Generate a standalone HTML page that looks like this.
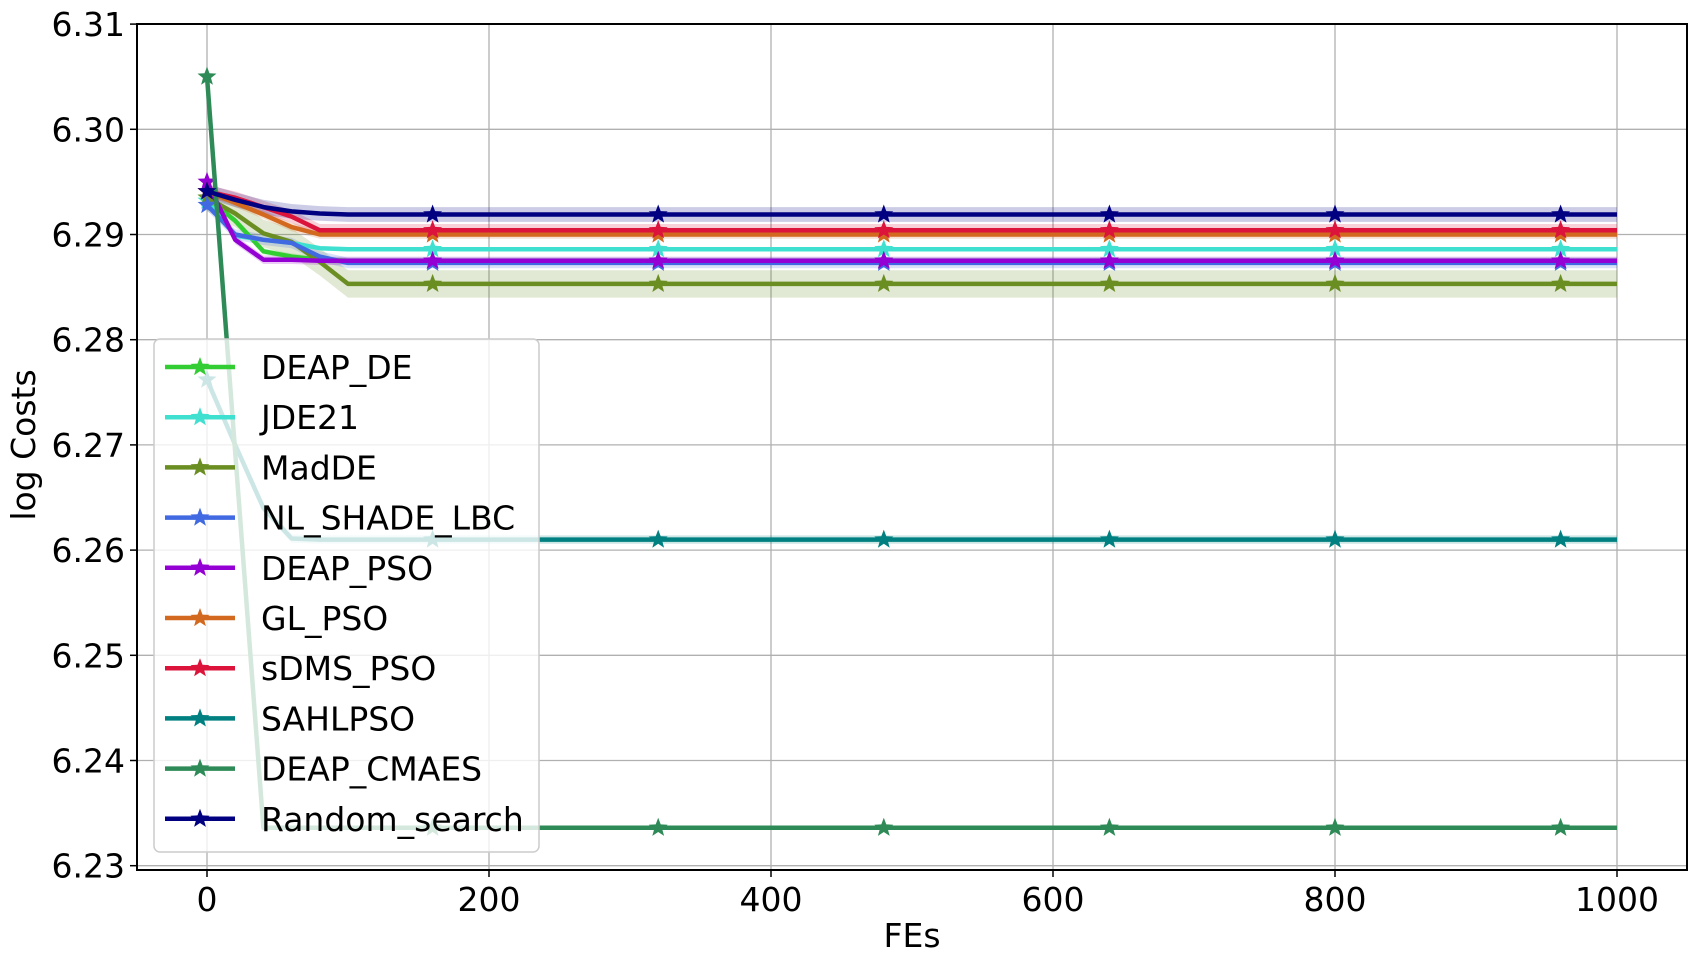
<!DOCTYPE html>
<html><head><meta charset="utf-8">
<style>
html,body{margin:0;padding:0;background:#fff;}
svg{display:block;font-family:"DejaVu Sans","Liberation Sans",sans-serif;}
</style></head>
<body>
<svg id="chart" width="1696" height="963" viewBox="0 0 1696 963" xmlns="http://www.w3.org/2000/svg"></svg>
<script>
const feSteps = [0, 20, 40, 60, 80, 100, 1000];
const seriesNames = ["DEAP_DE","JDE21","MadDE","NL_SHADE_LBC","DEAP_PSO","GL_PSO","sDMS_PSO","SAHLPSO","DEAP_CMAES","Random_search"];
const seriesColors = ["#32cd32","#40e0d0","#6b8e23","#4169e1","#9400d3","#d2691e","#dc143c","#008080","#2e8b57","#000080"];
const deapDE   = [6.2935, 6.2913, 6.2884, 6.2879, 6.2876, 6.2875, 6.2875];
const jde21    = [6.2932, 6.2899, 6.2895, 6.2892, 6.2887, 6.2886, 6.2886];
const madDE    = [6.2935, 6.2920, 6.2901, 6.2893, 6.2874, 6.2853, 6.2853];
const nlShade  = [6.2928, 6.2900, 6.2895, 6.2892, 6.2879, 6.2873, 6.2873];
const deapPSO  = [6.2950, 6.2895, 6.2876, 6.2876, 6.2875, 6.2875, 6.2875];
const glPSO    = [6.2941, 6.2930, 6.2919, 6.2907, 6.2900, 6.2900, 6.2900];
const sdmsPSO  = [6.2941, 6.2935, 6.2926, 6.2917, 6.2904, 6.2904, 6.2904];
const sahlPSO  = [6.2762, 6.2700, 6.2640, 6.2611, 6.2610, 6.2610, 6.2610];
const deapCMAES= [6.3050, 6.2693, 6.2336, 6.2336, 6.2336, 6.2336, 6.2336];
const randomSearch = [6.2941, 6.2933, 6.2926, 6.2922, 6.2920, 6.2919, 6.2919];
const bandStd = [0.0003, 0.0002, 0.0013, 0.0005, 0.0004, 0.0004, 0.0006, 0.0004, 0.0002, 0.0007];
const xTicks = [0, 200, 400, 600, 800, 1000];
const yTicks = [6.23, 6.24, 6.25, 6.26, 6.27, 6.28, 6.29, 6.30, 6.31];
const markerFEs = [0, 160, 320, 480, 640, 800, 960];

const allSeries = [deapDE, jde21, madDE, nlShade, deapPSO, glPSO, sdmsPSO, sahlPSO, deapCMAES, randomSearch];
const NS = "http://www.w3.org/2000/svg";
const svg = document.getElementById("chart");
const L = 137, R = 1687, T = 24, B = 870;
const xS = v => 207 + (v - 0) * (1617 - 207) / 1000;
const yS = v => 865.7 + (6.23 - v) * 10520;
function mk(tag, attrs, parent) {
  const e = document.createElementNS(NS, tag);
  for (const k in attrs) e.setAttribute(k, attrs[k]);
  (parent || svg).appendChild(e);
  return e;
}
function interp(arr, fe) {
  for (let i = 0; i < feSteps.length - 1; i++) {
    if (fe >= feSteps[i] && fe <= feSteps[i+1]) {
      const t = (fe - feSteps[i]) / (feSteps[i+1] - feSteps[i]);
      return arr[i] + t * (arr[i+1] - arr[i]);
    }
  }
  return arr[arr.length - 1];
}
function starPts(cx, cy, r) {
  const p = [];
  for (let i = 0; i < 10; i++) {
    const a = -Math.PI/2 + i * Math.PI/5;
    const rr = i % 2 ? r * 0.42 : r;
    p.push((cx + rr*Math.cos(a)).toFixed(1) + "," + (cy + rr*Math.sin(a)).toFixed(1));
  }
  return p.join(" ");
}
const grid = mk("g", {});


xTicks.forEach(t => mk("line", {x1:xS(t), x2:xS(t), y1:T, y2:B, stroke:"#b0b0b0", "stroke-width":1.3}, grid));
yTicks.forEach(t => mk("line", {x1:L, x2:R, y1:yS(t), y2:yS(t), stroke:"#b0b0b0", "stroke-width":1.3}, grid));
allSeries.forEach((s, i) => {
  const up = feSteps.map((f, j) => xS(f) + "," + yS(s[j] + bandStd[i]).toFixed(1));
  const dn = feSteps.map((f, j) => xS(f) + "," + yS(s[j] - bandStd[i]).toFixed(1)).reverse();
  const b = mk("polygon", {points: up.concat(dn).join(" "), fill: seriesColors[i], "fill-opacity": 0.2, stroke: "none"});
  
  
});
allSeries.forEach((s, i) => {
  const g = mk("g", {});
  
  
  mk("polyline", {points: feSteps.map((f, j) => xS(f) + "," + yS(s[j]).toFixed(1)).join(" "), fill:"none", stroke: seriesColors[i], "stroke-width": 4.5, "stroke-linejoin":"round"}, g);
  markerFEs.forEach(f => {
    const m = mk("polygon", {points: starPts(xS(f), yS(interp(s, f)), 10), fill: seriesColors[i]}, g);
    
    
  });
});
const frame = mk("rect", {x:L, y:T, width:R-L, height:B-T, fill:"none", stroke:"#000", "stroke-width":2});


xTicks.forEach(t => {
  mk("line", {x1:xS(t), x2:xS(t), y1:B, y2:B+7, stroke:"#000", "stroke-width":1.5});
  const tx = mk("text", {x:xS(t), y:B+41, "font-size":33, "text-anchor":"middle", fill:"#000"});
  tx.textContent = t;
  
  
});
yTicks.forEach(t => {
  mk("line", {x1:L-7, x2:L, y1:yS(t), y2:yS(t), stroke:"#000", "stroke-width":1.5});
  const tx = mk("text", {x:L-12, y:yS(t)+12, "font-size":33, "text-anchor":"end", fill:"#000"});
  tx.textContent = t.toFixed(2);
  
  
});
const xl = mk("text", {x:912, y:947, "font-size":33, "text-anchor":"middle"});
xl.textContent = "FEs";


const yl = mk("text", {x:0, y:0, "font-size":33, "text-anchor":"middle", transform:"translate(35,445) rotate(-90)"});
yl.textContent = "log Costs";


const lg = mk("g", {});


mk("rect", {x:154, y:339, width:385, height:513, rx:6, fill:"#fff", "fill-opacity":0.8, stroke:"#cccccc", "stroke-width":1.5}, lg);
seriesNames.forEach((n, i) => {
  const yy = 367 + i * 50.2;
  const e = mk("g", {}, lg);
  
  
  mk("line", {x1:165, x2:235, y1:yy, y2:yy, stroke:seriesColors[i], "stroke-width":4.5}, e);
  mk("polygon", {points: starPts(200, yy, 10), fill: seriesColors[i]}, e);
  const t = mk("text", {x:261, y:yy+12, "font-size":33, fill:"#000"}, e);
  t.textContent = n;
});
</script>
</body></html>
